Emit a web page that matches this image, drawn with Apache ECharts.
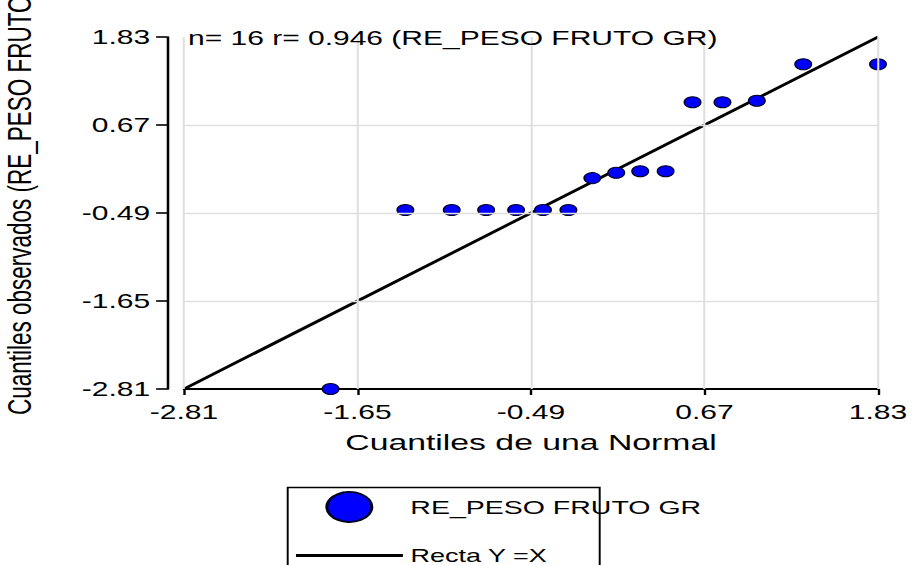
<!DOCTYPE html>
<html><head><meta charset="utf-8">
<script src="https://cdn.jsdelivr.net/npm/echarts@6/dist/echarts.min.js"></script>
<style>
html,body{margin:0;padding:0;overflow:hidden;background:#fff;width:915px;height:565px}
#c{width:610px;height:565px;transform:scaleX(1.5);transform-origin:0 0;}
</style>
</head><body><div id="c"></div>
<script>
// Tick values (shared by both axes)
const X_TICKS = [-2.81, -1.65, -0.49, 0.67, 1.83];
const Y_TICKS = [-2.81, -1.65, -0.49, 0.67, 1.83];
const Y_GRID = [-1.65, -0.49, 0.67];
// Normal quantiles (x) and observed quantiles (y), n = 16
const normalQuantiles = [-1.83, -1.33, -1.02, -0.79, -0.59, -0.41, -0.24, -0.08, 0.08, 0.24, 0.41, 0.59, 0.79, 1.02, 1.33, 1.83];
const observedQuantiles = [-2.81, -0.45, -0.45, -0.45, -0.45, -0.45, -0.45, -0.03, 0.04, 0.06, 0.06, 0.97, 0.97, 0.99, 1.47, 1.47];
const refLineEnds = [-2.81, 1.83];

const TITLE = 'n= 16 r= 0.946 (RE_PESO FRUTO GR)';
const X_NAME = 'Cuantiles de una Normal';
const Y_NAME = 'Cuantiles observados (RE_PESO FRUTO GR)';
const S_POINTS = 'RE_PESO FRUTO GR';
const S_LINE = 'Recta Y =X';

const FONT = "'Liberation Sans', Arial, sans-serif";
const chart = echarts.init(document.getElementById('c'), null, {renderer: 'svg'});

const fmt = v => Number(v).toFixed(2);

chart.setOption({
  animation: false,
  backgroundColor: '#fff',
  title: {
    text: TITLE, left: 125.3, top: 28, padding: 0,
    textStyle: {fontFamily: FONT, fontSize: 20, fontWeight: 'normal', color: '#000'}
  },
  grid: {left: 122.67, right: 24.67, top: 37, bottom: 176, containLabel: false},
  xAxis: {
    type: 'value', min: X_TICKS[0], max: X_TICKS[X_TICKS.length - 1],
    name: X_NAME, nameLocation: 'middle', nameGap: 42,
    nameTextStyle: {fontFamily: FONT, fontSize: 22.5, color: '#000'},
    axisLine: {show: true, onZero: false, lineStyle: {color: '#000', width: 1.8}},
    axisTick: {show: true, length: 6, customValues: X_TICKS, lineStyle: {color: '#000', width: 1.6}},
    axisLabel: {customValues: X_TICKS, formatter: fmt, margin: 13, fontFamily: FONT, fontSize: 20, color: '#000'},
    splitLine: {show: false}
  },
  yAxis: {
    type: 'value', min: Y_TICKS[0], max: Y_TICKS[Y_TICKS.length - 1], offset: 11.3,
    axisLine: {show: true, onZero: false, lineStyle: {color: '#000', width: 1.7}},
    axisTick: {show: true, length: 7.3, customValues: Y_TICKS, lineStyle: {color: '#000', width: 1.6}},
    axisLabel: {customValues: Y_TICKS, formatter: fmt, margin: 11.3, fontFamily: FONT, fontSize: 20, color: '#000'},
    splitLine: {show: false}
  },
  legend: [
    {
      data: [S_POINTS], left: 216.9, top: 491, orient: 'vertical',
      itemWidth: 71.3, itemHeight: 30, padding: 0, selectedMode: false,
      textStyle: {fontFamily: FONT, fontSize: 19, color: '#000'}
    },
    {
      data: [{name: S_LINE, icon: 'rect'}], left: 197.3, top: 546.5, orient: 'vertical',
      itemWidth: 71.3, itemHeight: 3, padding: 0, selectedMode: false,
      textStyle: {fontFamily: FONT, fontSize: 18, color: '#000'}
    }
  ],
  graphic: [
    {
      type: 'rect', left: 189.3, top: 485, silent: true,
      shape: {width: 208, height: 100},
      style: {fill: 'none', stroke: '#000', lineWidth: 1.3}
    },
    {
      type: 'text', x: 12.7, y: 415, rotation: Math.PI / 2, silent: true,
      style: {text: Y_NAME, fontFamily: FONT, fontSize: 22.5, fill: '#000', align: 'left', verticalAlign: 'middle'}
    }
  ],
  series: [
    {
      name: 'grid', type: 'line', data: [], z: 0, silent: true,
      markLine: {
        silent: true, symbol: ['none', 'none'], label: {show: false}, animation: false,
        lineStyle: {color: '#e0e0e0', type: 'solid', width: 1.4},
        data: X_TICKS.map(v => ({xAxis: v})).concat(Y_GRID.map(v => ({yAxis: v})))
      }
    },
    {
      name: S_LINE, type: 'line', z: 2, symbol: 'none', silent: true,
      data: refLineEnds.map(v => [v, v]),
      lineStyle: {color: '#000', width: 2.6},
      itemStyle: {color: '#000'}
    },
    {
      name: S_POINTS, type: 'scatter', z: 3, symbol: 'circle', symbolSize: 11,
      data: normalQuantiles.map((x, i) => [x, observedQuantiles[i]]),
      itemStyle: {color: '#0000ff', borderColor: '#000022', borderWidth: 1, opacity: 1}
    }
  ]
});
</script>
</body></html>
